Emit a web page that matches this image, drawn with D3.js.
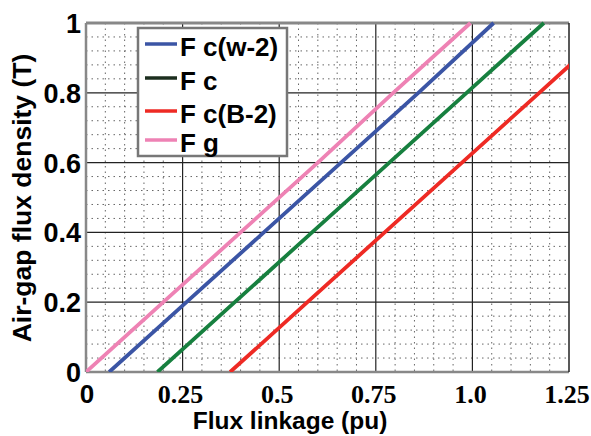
<!DOCTYPE html>
<html>
<head>
<meta charset="utf-8">
<script src="https://cdn.jsdelivr.net/npm/d3@7.9.0/dist/d3.min.js"></script>
<style>
  body { margin: 0; background: #fff; }
  svg text { font-family: Arial, "Liberation Sans", sans-serif; font-weight: bold; }
</style>
</head>
<body>
<svg id="chart" width="591" height="436"></svg>
<script>
// Air-gap flux density (T) steps
const fluxDensity = [0, 0.2, 0.4, 0.6, 0.8, 1.0];
// Flux linkage (pu) of each curve at those densities
const linkageFcw2 = [0.06, 0.26, 0.46, 0.66, 0.86, 1.055];
const linkageFc   = [0.185, 0.385, 0.585, 0.785, 0.985, 1.185];
const linkageFcB2 = [0.373, 0.573, 0.773, 0.973, 1.173, 1.373];
const linkageFg   = [0, 0.2, 0.4, 0.6, 0.795, 0.995];

const seriesNames = ["F c(w-2)", "F c", "F c(B-2)", "F g"];
const seriesColors = ["#3b55a5", "#17803f", "#ee2a24", "#ee82b4"];
const legendColors = ["#3b55a5", "#1c2e1e", "#ee2a24", "#ee82b4"];
const xTicks = [0, 0.25, 0.5, 0.75, 1.0, 1.25];
const xTickLabels = ["0", "0.25", "0.5", "0.75", "1.0", "1.25"];
const yTicks = [0, 0.2, 0.4, 0.6, 0.8, 1];
const yTickLabels = ["0", "0.2", "0.4", "0.6", "0.8", "1"];

const svg = d3.select("#chart");
const pLeft = 86, pRight = 569, pTop = 23, pBottom = 372;

const x = d3.scaleLinear().domain([0, 1.25]).range([pLeft, pRight]);
const y = d3.scaleLinear().domain([0, 1]).range([pBottom, pTop]);

// minor dotted grid
const grid = svg.append("g");
grid.selectAll(".vminor").data(d3.range(0.05, 1.25, 0.05).filter(v => Math.abs(v / 0.25 - Math.round(v / 0.25)) > 1e-6))
  .enter().append("line")
  .attr("x1", d => x(d)).attr("x2", d => x(d)).attr("y1", pTop).attr("y2", pBottom)
  .attr("stroke", "#666").attr("stroke-width", 1).attr("stroke-dasharray", "1.5,4");
grid.selectAll(".hminor").data(d3.range(0.04, 1, 0.04).filter(v => Math.abs(v / 0.2 - Math.round(v / 0.2)) > 1e-6))
  .enter().append("line")
  .attr("x1", pLeft).attr("x2", pRight).attr("y1", d => y(d)).attr("y2", d => y(d))
  .attr("stroke", "#666").attr("stroke-width", 1).attr("stroke-dasharray", "1.5,4");

// major grid
grid.selectAll(".vmajor").data(xTicks.slice(1, -1)).enter().append("line")
  .attr("x1", d => x(d)).attr("x2", d => x(d)).attr("y1", pTop).attr("y2", pBottom)
  .attr("stroke", "#222").attr("stroke-width", 1.2);
grid.selectAll(".hmajor").data(yTicks.slice(1, -1)).enter().append("line")
  .attr("x1", pLeft).attr("x2", pRight).attr("y1", d => y(d)).attr("y2", d => y(d))
  .attr("stroke", "#222").attr("stroke-width", 1.2);

// frame
svg.append("line").attr("x1", pLeft).attr("x2", pRight).attr("y1", pTop).attr("y2", pTop).attr("stroke", "#888").attr("stroke-width", 3);
svg.append("line").attr("x1", pLeft).attr("x2", pRight).attr("y1", pBottom).attr("y2", pBottom).attr("stroke", "#888").attr("stroke-width", 2.5);
svg.append("line").attr("x1", pLeft).attr("x2", pLeft).attr("y1", pTop).attr("y2", pBottom).attr("stroke", "#888").attr("stroke-width", 2.5);
svg.append("line").attr("x1", pRight).attr("x2", pRight).attr("y1", pTop).attr("y2", pBottom).attr("stroke", "#222").attr("stroke-width", 1.5);

// curves
const allLinkage = [linkageFcw2, linkageFc, linkageFcB2, linkageFg];
const defs = svg.append("defs");
defs.append("clipPath").attr("id", "clip").append("rect")
  .attr("x", pLeft).attr("y", pTop - 2).attr("width", pRight - pLeft).attr("height", pBottom - pTop + 2);
const line = d3.line().x(d => x(d[0])).y(d => y(d[1]));
const curves = svg.append("g").attr("clip-path", "url(#clip)");
allLinkage.forEach((lk, i) => {
  curves.append("path")
    .datum(lk.map((v, j) => [v, fluxDensity[j]]))
    .attr("d", line)
    .attr("fill", "none")
    .attr("stroke", seriesColors[i])
    .attr("stroke-width", 3.8);
});

// tick labels
svg.selectAll(".ylab").data(yTicks).enter().append("text")
  .attr("x", 81).attr("y", d => y(d) + 10)
  .attr("text-anchor", "end").attr("font-size", 27)
  .text((d, i) => yTickLabels[i]);

svg.selectAll(".xlab").data(xTicks).enter().append("text")
  .attr("x", d => d === 0 ? x(d) + 1 : x(d) - 2).attr("y", 403)
  .attr("text-anchor", "middle")
  .attr("font-size", 26)
  .style("font-family", d => d === 0 ? "Arial, sans-serif" : "'Liberation Serif', 'Times New Roman', serif")
  .text((d, i) => xTickLabels[i]);

// axis titles
svg.append("text").attr("x", 290).attr("y", 429).attr("text-anchor", "middle")
  .attr("font-size", 24.5).text("Flux linkage (pu)");
svg.append("text").attr("transform", "translate(31,198) rotate(-90)").attr("text-anchor", "middle")
  .attr("font-size", 26.5).text("Air-gap flux density (T)");

// legend
const lg = svg.append("g");
lg.append("rect").attr("x", 138).attr("y", 28).attr("width", 149).attr("height", 128)
  .attr("fill", "#fff").attr("stroke", "#777").attr("stroke-width", 2.5);
const legendY = [44, 78, 111, 140];
seriesNames.forEach((name, i) => {
  lg.append("line").attr("x1", 145).attr("x2", 177).attr("y1", legendY[i]).attr("y2", legendY[i])
    .attr("stroke", legendColors[i]).attr("stroke-width", 3.5);
  lg.append("text").attr("x", 180).attr("y", legendY[i] + 12).attr("font-size", 26).text(name);
});
</script>
</body>
</html>
